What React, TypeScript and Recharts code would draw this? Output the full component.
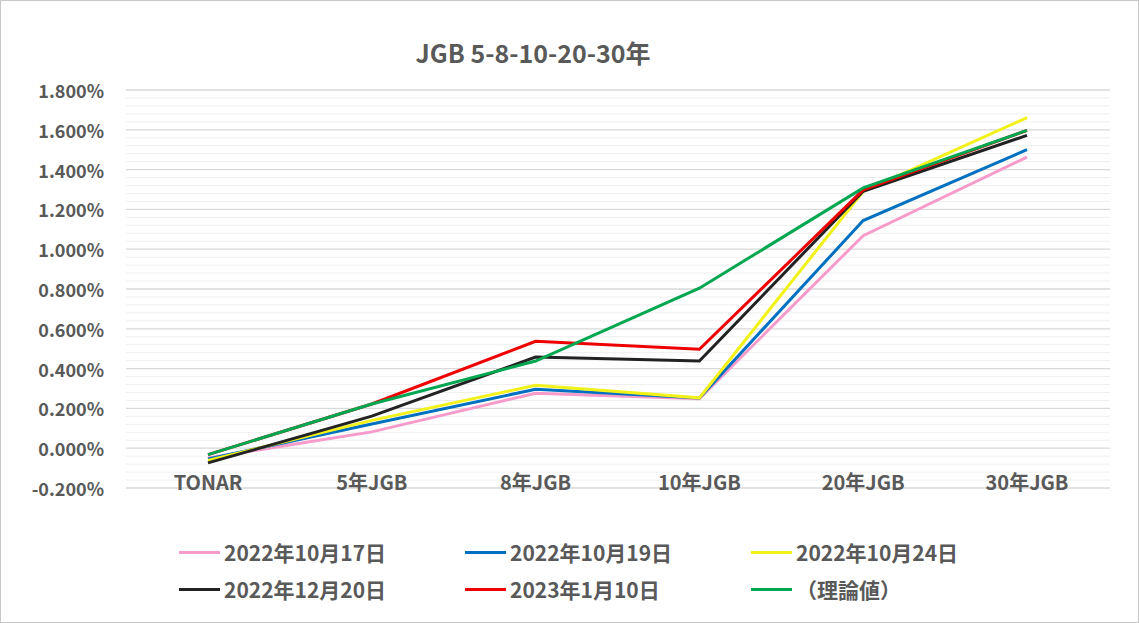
import React from "react"
import { LineChart, Line, XAxis, YAxis, ReferenceLine } from "recharts"

const categories = ["TONAR", "5年JGB", "8年JGB", "10年JGB", "20年JGB", "30年JGB"]

const oct17 = [-0.049, 0.082, 0.276, 0.248, 1.068, 1.463]
const oct19 = [-0.054, 0.122, 0.296, 0.252, 1.144, 1.5]
const oct24 = [-0.062, 0.14, 0.316, 0.253, 1.29, 1.661]
const dec20 = [-0.074, 0.161, 0.458, 0.438, 1.291, 1.572]
const jan10 = [-0.032, 0.222, 0.537, 0.497, 1.298, 1.597]
const theory = [-0.032, 0.222, 0.438, 0.804, 1.308, 1.597]

const yTicks = [-0.2, 0, 0.2, 0.4, 0.6, 0.8, 1.0, 1.2, 1.4, 1.6, 1.8]

const series = [
  { key: "oct17", name: "2022年10月17日", color: "#F79BCB", values: oct17 },
  { key: "oct19", name: "2022年10月19日", color: "#0070C0", values: oct19 },
  { key: "oct24", name: "2022年10月24日", color: "#F2F21A", values: oct24 },
  { key: "dec20", name: "2022年12月20日", color: "#222222", values: dec20 },
  { key: "jan10", name: "2023年1月10日", color: "#EE0000", values: jan10 },
  { key: "theory", name: "（理論値）", color: "#00A650", values: theory },
]

const data = categories.map((cat, i) => {
  const row: Record<string, string | number> = { cat }
  series.forEach((s) => {
    row[s.key] = s.values[i]
  })
  return row
})

// minor gridlines every 0.04%
const minorLines: number[] = []
for (let i = 0; i <= 50; i++) {
  const v = Math.round((-0.2 + i * 0.04) * 1000) / 1000
  if (!yTicks.some((t) => Math.abs(t - v) < 1e-6)) minorLines.push(v)
}

const font = "'Noto Sans CJK JP', 'Noto Sans', sans-serif"
const textColor = "#595959"

const YTick = (props: any) => {
  const { y, payload } = props
  return (
    <text x={103} y={y} textAnchor="end" dominantBaseline="central" fill={textColor}
      fontFamily={font} fontWeight={700} fontSize={18}>
      {payload.value.toFixed(3) + "%"}
    </text>
  )
}

const XTick = (props: any) => {
  const { x, payload } = props
  return (
    <text x={x} y={480} textAnchor="middle" dominantBaseline="central" fill={textColor}
      fontFamily={font} fontWeight={700} fontSize={20}>
      {payload.value}
    </text>
  )
}

export default function App() {
  return (
    <div style={{ position: "absolute", left: 0, top: 0, width: 1139, height: 623, boxSizing: "border-box", border: "1px solid #c8c8c8", background: "#fff", fontFamily: font }}>
      <div style={{ position: "absolute", left: 0, width: 1064, top: 33, textAlign: "center", fontSize: 25, fontWeight: 700, color: textColor }}>
        JGB 5-8-10-20-30年
      </div>
      <LineChart width={1137} height={621} data={data} margin={{ top: 89, right: 28, bottom: 104, left: 0 }}
        style={{ position: "absolute", left: 0, top: 0 }}>
        {minorLines.map((v) => (
          <ReferenceLine key={"m" + v} y={v} stroke="#efefef" strokeWidth={1} />
        ))}
        {yTicks.map((v) => (
          <ReferenceLine key={"M" + v} y={v} stroke="#d9d9d9" strokeWidth={1.3} />
        ))}
        <XAxis dataKey="cat" axisLine={false} tickLine={false} height={30} padding={{ left: 82, right: 83 }}
          tick={<XTick />} interval={0} />
        <YAxis domain={[-0.2, 1.8]} ticks={yTicks} width={125} axisLine={false} tickLine={false}
          tick={<YTick />} allowDataOverflow />
        {series.map((s) => (
          <Line key={s.key} dataKey={s.key} name={s.name} stroke={s.color} strokeWidth={3}
            dot={false} activeDot={false} isAnimationActive={false} type="linear" />
        ))}
      </LineChart>
      <div style={{ position: "absolute", left: 178, top: 536, width: 900 }}>
        {series.map((s, i) => (
          <div key={s.key} style={{ position: "absolute", left: (i % 3) * 286, top: Math.floor(i / 3) * 37, height: 30, display: "flex", alignItems: "center", whiteSpace: "nowrap", color: textColor, fontSize: 21, fontWeight: 700 }}>
            <span style={{ display: "inline-block", width: 41, height: 3, background: s.color, marginRight: 4 }} />
            <span>{s.name}</span>
          </div>
        ))}
      </div>
    </div>
  )
}
